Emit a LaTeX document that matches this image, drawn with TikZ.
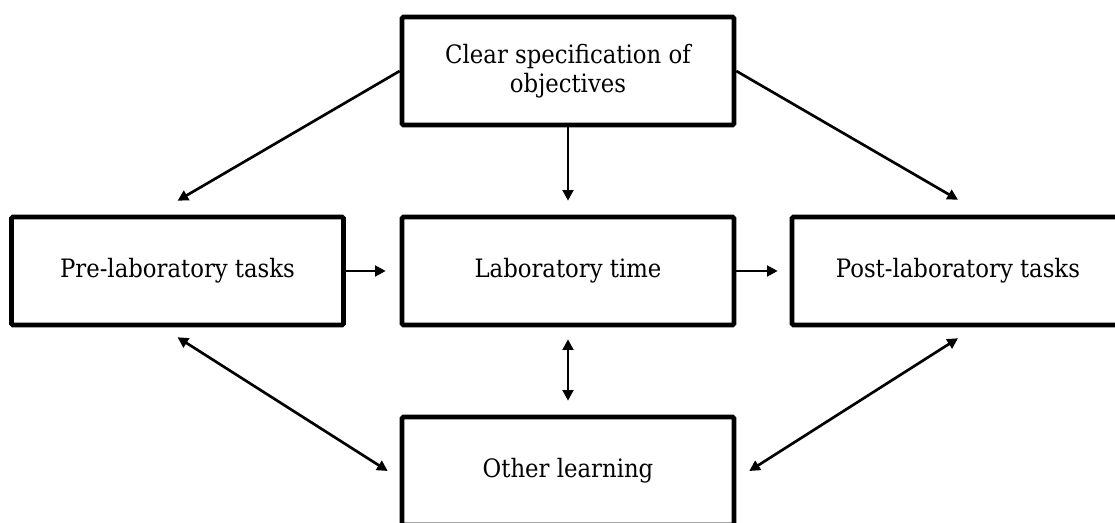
\documentclass[tikz,border=0pt]{standalone}
\usepackage{fontspec}
\setmainfont{DejaVu Serif Condensed}
\usetikzlibrary{arrows.meta,calc}

\tikzset{
  stagebox/.style={draw, line width=3.4pt, rounded corners=1pt,
    minimum width=249pt, minimum height=81pt, inner sep=0pt,
    align=center, font=\fontsize{19}{22}\selectfont},
  flow/.style={line width=2pt, -{Triangle[length=8pt,width=8pt]}},
  twoway/.style={line width=2pt, {Triangle[length=8pt,width=8pt]}-{Triangle[length=8pt,width=8pt]}}
}

\begin{document}
\begin{tikzpicture}[x=0.75pt, y=-0.75pt]
  \useasboundingbox (0,0) rectangle (1115,523);
  \clip (0,0) rectangle (1115,523);

  % stages of the laboratory experience
  \node[stagebox] (obj)   at (568,71)   {Clear specification of\\objectives};
  \node[stagebox] (pre)   at (177.5,271) {Pre-laboratory tasks};
  \node[stagebox] (lab)   at (568,271)  {Laboratory time};
  \node[stagebox] (post)  at (958,271)  {Post-laboratory tasks};
  \node[stagebox] (other) at (568,471)  {Other learning};

  % objectives feed every stage
  \draw[flow] (obj.west)  -- ($(pre.north)+(0,-14)$);
  \draw[flow] (obj.south) -- ($(lab.north)+(0,-14)$);
  \draw[flow] (obj.east)  -- ($(post.north)+(0,-15)$);

  % sequence through the stages
  \draw[flow] (pre.east) -- ($(lab.west)+(-14,0)$);
  \draw[flow] (lab.east) -- ($(post.west)+(-12,0)$);

  % links with other learning
  \draw[twoway] ($(lab.south)+(0,12)$)  -- ($(other.north)+(0,-14)$);
  \draw[twoway] ($(pre.south)+(0,10)$)  -- ($(other.west)+(-12,0)$);
  \draw[twoway] ($(post.south)+(0,11)$) -- ($(other.east)+(13,0)$);
\end{tikzpicture}
\end{document}
